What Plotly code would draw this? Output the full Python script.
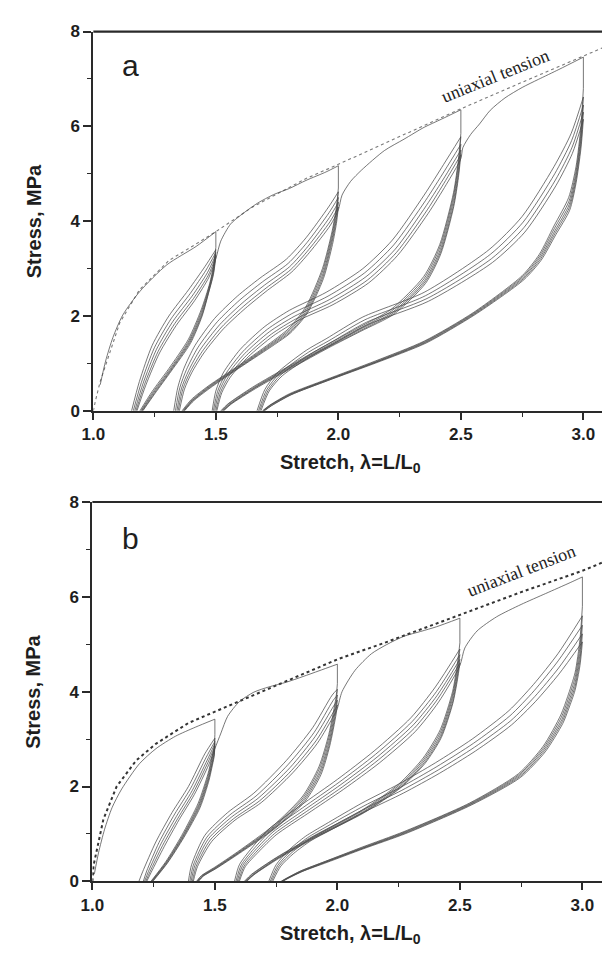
import plotly.graph_objects as go

# ======================= DATA =======================
# ---------- panel a ----------
A_TENSION_X = [1.0, 1.008, 1.028, 1.068, 1.108, 1.188, 1.308, 1.416, 1.5, 1.65, 1.788, 1.868, 2.0, 2.268, 2.5, 2.75, 3.0, 3.08]
A_TENSION_Y = [0, 0.2, 0.62, 1.24, 1.86, 2.55, 3.17, 3.51, 3.78, 4.3, 4.69, 4.9, 5.2, 5.83, 6.37, 6.93, 7.48, 7.66]

A1_LOAD_X = [1.028, 1.05, 1.08, 1.12, 1.19, 1.3, 1.42, 1.5]
A1_LOAD_Y = [0.55, 1.05, 1.55, 2.02, 2.52, 3.08, 3.47, 3.78]
A1_DROP = [3.78, 3.45]
A1_UNLOAD_X = [[1.5, 1.49, 1.475, 1.44, 1.388, 1.308, 1.24, 1.19],
               [1.5, 1.49, 1.474, 1.441, 1.39, 1.311, 1.244, 1.194],
               [1.5, 1.49, 1.473, 1.442, 1.392, 1.314, 1.247, 1.197],
               [1.5, 1.49, 1.473, 1.443, 1.394, 1.316, 1.25, 1.2],
               [1.5, 1.49, 1.472, 1.444, 1.396, 1.318, 1.252, 1.202]]
A1_UNLOAD_Y = [[3.45, 3.05, 2.69, 2.13, 1.51, 0.89, 0.41, 0],
               [3.4, 3.0, 2.64, 2.09, 1.48, 0.87, 0.4, 0],
               [3.34, 2.95, 2.59, 2.05, 1.46, 0.86, 0.39, 0],
               [3.29, 2.91, 2.55, 2.02, 1.44, 0.85, 0.38, 0],
               [3.25, 2.87, 2.52, 2.0, 1.42, 0.84, 0.37, 0]]
A1_RELOAD_X = [[1.156, 1.188, 1.24, 1.308, 1.388, 1.455, 1.5],
               [1.163, 1.196, 1.249, 1.317, 1.396, 1.46, 1.5],
               [1.169, 1.203, 1.257, 1.325, 1.403, 1.465, 1.5],
               [1.174, 1.209, 1.264, 1.332, 1.409, 1.469, 1.5]]
A1_RELOAD_Y = [[0, 0.62, 1.38, 2.0, 2.55, 3.04, 3.4],
               [0, 0.6, 1.33, 1.94, 2.48, 2.97, 3.34],
               [0, 0.58, 1.29, 1.89, 2.42, 2.91, 3.29],
               [0, 0.56, 1.25, 1.84, 2.37, 2.86, 3.25]]

A2_LOAD_X = [1.178, 1.214, 1.27, 1.338, 1.414, 1.472, 1.5, 1.52, 1.56, 1.6, 1.67, 1.735, 1.8, 1.868, 1.95, 2.0]
A2_LOAD_Y = [0, 0.54, 1.22, 1.8, 2.33, 2.82, 3.21, 3.58, 3.94, 4.12, 4.38, 4.56, 4.69, 4.86, 5.04, 5.17]
A2_DROP = [5.17, 4.7]
A2_UNLOAD_X = [[2.0, 1.992, 1.975, 1.935, 1.868, 1.8, 1.735, 1.6, 1.468, 1.4, 1.362],
               [2.0, 1.992, 1.975, 1.936, 1.869, 1.801, 1.737, 1.602, 1.47, 1.403, 1.365],
               [2.0, 1.992, 1.975, 1.937, 1.87, 1.802, 1.738, 1.604, 1.472, 1.405, 1.368],
               [2.0, 1.992, 1.975, 1.938, 1.871, 1.803, 1.739, 1.605, 1.474, 1.407, 1.37],
               [2.0, 1.992, 1.976, 1.939, 1.872, 1.804, 1.74, 1.606, 1.476, 1.409, 1.372]]
A2_UNLOAD_Y = [[4.7, 4.3, 3.8, 3.0, 2.2, 1.75, 1.48, 0.98, 0.52, 0.24, 0],
               [4.62, 4.22, 3.73, 2.95, 2.16, 1.72, 1.46, 0.97, 0.51, 0.23, 0],
               [4.5, 4.12, 3.65, 2.89, 2.12, 1.69, 1.44, 0.96, 0.5, 0.22, 0],
               [4.4, 4.04, 3.58, 2.84, 2.08, 1.66, 1.42, 0.95, 0.49, 0.22, 0],
               [4.3, 3.95, 3.51, 2.79, 2.05, 1.64, 1.4, 0.94, 0.48, 0.21, 0]]
A2_RELOAD_X = [[1.328, 1.345, 1.37, 1.415, 1.495, 1.588, 1.68, 1.788, 1.868, 1.96, 2.0],
               [1.335, 1.353, 1.38, 1.426, 1.506, 1.598, 1.69, 1.795, 1.872, 1.962, 2.0],
               [1.341, 1.36, 1.389, 1.436, 1.516, 1.607, 1.698, 1.801, 1.876, 1.964, 2.0],
               [1.346, 1.366, 1.396, 1.444, 1.524, 1.614, 1.705, 1.806, 1.879, 1.966, 2.0]]
A2_RELOAD_Y = [[0, 0.5, 0.9, 1.38, 1.95, 2.42, 2.8, 3.2, 3.65, 4.3, 4.62],
               [0, 0.49, 0.87, 1.33, 1.88, 2.34, 2.72, 3.11, 3.55, 4.18, 4.5],
               [0, 0.48, 0.85, 1.29, 1.82, 2.27, 2.65, 3.04, 3.47, 4.08, 4.4],
               [0, 0.47, 0.83, 1.25, 1.77, 2.21, 2.59, 2.98, 3.4, 3.99, 4.3]]

A3_LOAD_X = [1.351, 1.372, 1.402, 1.451, 1.531, 1.62, 1.71, 1.81, 1.882, 1.968, 2.0, 2.015, 2.05, 2.095, 2.188, 2.268, 2.35, 2.42, 2.5]
A3_LOAD_Y = [0, 0.46, 0.81, 1.22, 1.73, 2.16, 2.54, 2.93, 3.34, 3.92, 4.24, 4.55, 4.84, 5.08, 5.49, 5.73, 5.98, 6.15, 6.35]
A3_DROP = [6.35, 5.85]
A3_UNLOAD_X = [[2.5, 2.49, 2.47, 2.414, 2.348, 2.215, 2.08, 1.948, 1.8, 1.65, 1.55, 1.52],
               [2.5, 2.49, 2.47, 2.415, 2.35, 2.218, 2.083, 1.951, 1.803, 1.653, 1.553, 1.523],
               [2.5, 2.49, 2.47, 2.416, 2.352, 2.221, 2.086, 1.954, 1.806, 1.656, 1.556, 1.526],
               [2.5, 2.49, 2.471, 2.417, 2.354, 2.224, 2.089, 1.957, 1.809, 1.659, 1.559, 1.529],
               [2.5, 2.49, 2.471, 2.418, 2.356, 2.227, 2.092, 1.96, 1.812, 1.662, 1.562, 1.532]]
A3_UNLOAD_Y = [[5.85, 5.3, 4.6, 3.51, 2.83, 2.14, 1.75, 1.38, 0.95, 0.5, 0.15, 0],
               [5.78, 5.22, 4.53, 3.46, 2.79, 2.11, 1.73, 1.36, 0.94, 0.49, 0.15, 0],
               [5.62, 5.1, 4.44, 3.4, 2.75, 2.08, 1.71, 1.35, 0.93, 0.48, 0.14, 0],
               [5.5, 5.0, 4.37, 3.35, 2.72, 2.06, 1.69, 1.34, 0.92, 0.48, 0.14, 0],
               [5.4, 4.92, 4.31, 3.31, 2.69, 2.04, 1.68, 1.33, 0.91, 0.47, 0.14, 0]]
A3_RELOAD_X = [[1.485, 1.5, 1.53, 1.6, 1.7, 1.8, 1.95, 2.1, 2.22, 2.35, 2.43, 2.5],
               [1.49, 1.507, 1.539, 1.61, 1.71, 1.81, 1.958, 2.107, 2.226, 2.355, 2.433, 2.5],
               [1.495, 1.513, 1.546, 1.618, 1.719, 1.819, 1.965, 2.113, 2.232, 2.359, 2.436, 2.5],
               [1.5, 1.519, 1.553, 1.625, 1.727, 1.827, 1.972, 2.119, 2.237, 2.363, 2.438, 2.5]]
A3_RELOAD_Y = [[0, 0.42, 0.8, 1.3, 1.78, 2.12, 2.5, 3.0, 3.6, 4.55, 5.2, 5.78],
               [0, 0.41, 0.77, 1.25, 1.72, 2.05, 2.42, 2.91, 3.5, 4.43, 5.06, 5.62],
               [0, 0.4, 0.75, 1.21, 1.67, 1.99, 2.35, 2.83, 3.41, 4.33, 4.95, 5.5],
               [0, 0.39, 0.73, 1.17, 1.62, 1.94, 2.29, 2.76, 3.34, 4.24, 4.86, 5.4]]

A4_LOAD_X = [1.504, 1.524, 1.559, 1.632, 1.734, 1.834, 1.978, 2.124, 2.242, 2.366, 2.44, 2.5, 2.508, 2.54, 2.576, 2.62, 2.68, 2.75, 2.816, 2.9, 3.0]
A4_LOAD_Y = [0, 0.38, 0.71, 1.14, 1.58, 1.9, 2.24, 2.7, 3.28, 4.16, 4.77, 5.32, 5.55, 5.83, 6.05, 6.34, 6.6, 6.82, 6.99, 7.2, 7.46]
A4_DROP = [7.46, 6.8]
A4_UNLOAD_X = [[3.0, 2.99, 2.97, 2.94, 2.88, 2.82, 2.75, 2.55, 2.35, 2.15, 1.95, 1.8, 1.72, 1.69],
               [3.0, 2.99, 2.97, 2.941, 2.882, 2.822, 2.752, 2.552, 2.352, 2.152, 1.952, 1.802, 1.722, 1.692],
               [3.0, 2.99, 2.97, 2.942, 2.884, 2.824, 2.754, 2.554, 2.354, 2.154, 1.954, 1.804, 1.724, 1.694],
               [3.0, 2.99, 2.97, 2.943, 2.886, 2.826, 2.756, 2.556, 2.356, 2.156, 1.956, 1.806, 1.726, 1.696],
               [3.0, 2.99, 2.97, 2.944, 2.888, 2.828, 2.758, 2.558, 2.358, 2.158, 1.958, 1.808, 1.728, 1.698]]
A4_UNLOAD_Y = [[6.8, 6.0, 5.15, 4.5, 3.9, 3.3, 2.85, 2.07, 1.47, 1.05, 0.66, 0.36, 0.12, 0],
               [6.62, 5.87, 5.05, 4.42, 3.85, 3.27, 2.83, 2.06, 1.46, 1.04, 0.65, 0.35, 0.12, 0],
               [6.45, 5.75, 4.96, 4.35, 3.8, 3.24, 2.81, 2.05, 1.45, 1.03, 0.65, 0.35, 0.12, 0],
               [6.3, 5.64, 4.88, 4.29, 3.76, 3.21, 2.79, 2.04, 1.44, 1.03, 0.64, 0.34, 0.11, 0],
               [6.15, 5.53, 4.8, 4.23, 3.72, 3.18, 2.77, 2.03, 1.43, 1.02, 0.64, 0.34, 0.11, 0]]
A4_RELOAD_X = [[1.668, 1.7, 1.75, 1.87, 1.95, 2.1, 2.35, 2.615, 2.75, 2.88, 2.95, 3.0],
               [1.674, 1.707, 1.758, 1.879, 1.958, 2.108, 2.356, 2.62, 2.754, 2.883, 2.952, 3.0],
               [1.679, 1.713, 1.765, 1.887, 1.965, 2.115, 2.362, 2.625, 2.758, 2.886, 2.954, 3.0],
               [1.684, 1.718, 1.771, 1.894, 1.972, 2.121, 2.367, 2.629, 2.761, 2.888, 2.955, 3.0]]
A4_RELOAD_Y = [[0, 0.45, 0.8, 1.28, 1.52, 1.98, 2.5, 3.4, 4.1, 5.15, 5.85, 6.62],
               [0, 0.44, 0.78, 1.24, 1.47, 1.92, 2.43, 3.3, 3.98, 5.0, 5.7, 6.45],
               [0, 0.43, 0.76, 1.2, 1.43, 1.87, 2.37, 3.21, 3.87, 4.87, 5.56, 6.3],
               [0, 0.42, 0.74, 1.17, 1.39, 1.82, 2.31, 3.13, 3.77, 4.75, 5.43, 6.15]]

# ---------- panel b ----------
B_TENSION_X = [1.0, 1.005, 1.045, 1.099, 1.179, 1.259, 1.392, 1.499, 1.659, 1.845, 2.004, 2.192, 2.5, 2.75, 3.0, 3.08]
B_TENSION_Y = [0, 0.34, 1.31, 2.0, 2.55, 2.9, 3.34, 3.58, 3.93, 4.34, 4.69, 5.03, 5.62, 6.1, 6.55, 6.72]

B1_LOAD_X = [1.008, 1.025, 1.05, 1.08, 1.12, 1.192, 1.26, 1.339, 1.42, 1.5]
B1_LOAD_Y = [0.15, 0.6, 1.1, 1.55, 1.95, 2.48, 2.8, 3.06, 3.25, 3.42]
B1_DROP = [3.42, 3.1]
B1_UNLOAD_X = [[1.5, 1.497, 1.485, 1.472, 1.432, 1.365, 1.299, 1.239],
               [1.5, 1.497, 1.485, 1.473, 1.434, 1.367, 1.301, 1.241],
               [1.5, 1.497, 1.486, 1.474, 1.436, 1.369, 1.303, 1.243],
               [1.5, 1.497, 1.486, 1.475, 1.438, 1.371, 1.305, 1.245],
               [1.5, 1.497, 1.487, 1.476, 1.44, 1.373, 1.307, 1.247]]
B1_UNLOAD_Y = [[3.1, 2.83, 2.55, 2.27, 1.65, 0.97, 0.41, 0],
               [3.02, 2.77, 2.5, 2.23, 1.62, 0.95, 0.4, 0],
               [2.95, 2.71, 2.45, 2.19, 1.6, 0.94, 0.4, 0],
               [2.9, 2.67, 2.41, 2.16, 1.58, 0.93, 0.39, 0],
               [2.85, 2.63, 2.38, 2.13, 1.56, 0.92, 0.39, 0]]
B1_RELOAD_X = [[1.19, 1.205, 1.259, 1.325, 1.392, 1.459, 1.5],
               [1.208, 1.222, 1.272, 1.336, 1.401, 1.465, 1.5],
               [1.213, 1.229, 1.28, 1.343, 1.407, 1.469, 1.5],
               [1.218, 1.235, 1.287, 1.349, 1.412, 1.472, 1.5]]
B1_RELOAD_Y = [[0, 0.2, 0.83, 1.45, 2.0, 2.69, 3.02],
               [0, 0.22, 0.82, 1.42, 1.96, 2.62, 2.95],
               [0, 0.21, 0.79, 1.37, 1.91, 2.56, 2.9],
               [0, 0.2, 0.76, 1.33, 1.87, 2.51, 2.85]]

B2_LOAD_X = [1.222, 1.24, 1.293, 1.354, 1.416, 1.475, 1.5, 1.525, 1.552, 1.6, 1.659, 1.72, 1.792, 1.86, 1.925, 2.0]
B2_LOAD_Y = [0, 0.19, 0.73, 1.3, 1.83, 2.46, 2.8, 3.13, 3.48, 3.79, 3.99, 4.1, 4.2, 4.32, 4.44, 4.58]
B2_DROP = [4.58, 4.17]
B2_UNLOAD_X = [[2.0, 1.995, 1.965, 1.925, 1.859, 1.739, 1.592, 1.5, 1.445, 1.425],
               [2.0, 1.995, 1.966, 1.927, 1.861, 1.741, 1.594, 1.502, 1.447, 1.427],
               [2.0, 1.995, 1.967, 1.929, 1.863, 1.743, 1.596, 1.504, 1.449, 1.429],
               [2.0, 1.995, 1.968, 1.931, 1.865, 1.745, 1.598, 1.506, 1.451, 1.431],
               [2.0, 1.995, 1.969, 1.933, 1.867, 1.747, 1.6, 1.508, 1.453, 1.433]]
B2_UNLOAD_Y = [[4.17, 3.9, 3.1, 2.42, 1.8, 1.18, 0.62, 0.3, 0.12, 0],
               [4.05, 3.8, 3.04, 2.38, 1.77, 1.16, 0.61, 0.29, 0.12, 0],
               [3.93, 3.7, 2.97, 2.33, 1.74, 1.15, 0.6, 0.29, 0.11, 0],
               [3.82, 3.61, 2.91, 2.29, 1.71, 1.13, 0.6, 0.28, 0.11, 0],
               [3.72, 3.53, 2.86, 2.25, 1.68, 1.12, 0.59, 0.28, 0.11, 0]]
B2_RELOAD_X = [[1.392, 1.405, 1.459, 1.552, 1.659, 1.792, 1.899, 1.979, 2.0],
               [1.398, 1.412, 1.467, 1.561, 1.668, 1.8, 1.905, 1.982, 2.0],
               [1.403, 1.418, 1.474, 1.569, 1.676, 1.807, 1.91, 1.985, 2.0],
               [1.408, 1.424, 1.481, 1.576, 1.683, 1.813, 1.915, 1.987, 2.0]]
B2_RELOAD_Y = [[0, 0.35, 0.97, 1.45, 1.86, 2.55, 3.24, 3.93, 4.05],
               [0, 0.34, 0.93, 1.4, 1.8, 2.47, 3.14, 3.81, 3.93],
               [0, 0.33, 0.9, 1.36, 1.75, 2.4, 3.06, 3.7, 3.82],
               [0, 0.32, 0.87, 1.32, 1.7, 2.34, 2.98, 3.6, 3.72]]

B3_LOAD_X = [1.412, 1.429, 1.487, 1.582, 1.689, 1.818, 1.918, 1.988, 2.0, 2.019, 2.072, 2.139, 2.2, 2.272, 2.34, 2.405, 2.5]
B3_LOAD_Y = [0, 0.31, 0.84, 1.29, 1.66, 2.29, 2.91, 3.52, 3.65, 4.0, 4.45, 4.8, 4.99, 5.17, 5.27, 5.37, 5.55]
B3_DROP = [5.55, 5.03]
B3_UNLOAD_X = [[2.5, 2.49, 2.47, 2.42, 2.35, 2.25, 2.1, 1.9, 1.75, 1.65, 1.62],
               [2.5, 2.49, 2.47, 2.421, 2.352, 2.253, 2.103, 1.903, 1.753, 1.653, 1.623],
               [2.5, 2.49, 2.47, 2.422, 2.354, 2.256, 2.106, 1.906, 1.756, 1.656, 1.626],
               [2.5, 2.49, 2.471, 2.423, 2.356, 2.258, 2.108, 1.908, 1.758, 1.658, 1.628],
               [2.5, 2.49, 2.471, 2.424, 2.358, 2.26, 2.11, 1.91, 1.76, 1.66, 1.63]]
B3_UNLOAD_Y = [[5.03, 4.6, 4.0, 3.2, 2.6, 2.05, 1.5, 0.95, 0.5, 0.15, 0],
               [4.9, 4.5, 3.93, 3.15, 2.57, 2.03, 1.49, 0.94, 0.5, 0.15, 0],
               [4.78, 4.4, 3.86, 3.1, 2.54, 2.01, 1.47, 0.93, 0.49, 0.14, 0],
               [4.68, 4.32, 3.8, 3.06, 2.51, 1.99, 1.46, 0.93, 0.49, 0.14, 0],
               [4.6, 4.25, 3.75, 3.03, 2.49, 1.98, 1.45, 0.92, 0.48, 0.14, 0]]
B3_RELOAD_X = [[1.58, 1.6, 1.65, 1.72, 1.85, 2.0, 2.15, 2.3, 2.4, 2.5],
               [1.586, 1.607, 1.658, 1.729, 1.858, 2.007, 2.156, 2.305, 2.404, 2.5],
               [1.591, 1.613, 1.665, 1.737, 1.866, 2.014, 2.162, 2.31, 2.407, 2.5],
               [1.596, 1.619, 1.672, 1.744, 1.873, 2.02, 2.167, 2.314, 2.41, 2.5]]
B3_RELOAD_Y = [[0, 0.35, 0.7, 1.1, 1.6, 2.15, 2.75, 3.45, 4.1, 4.9],
               [0, 0.34, 0.68, 1.07, 1.55, 2.09, 2.68, 3.37, 4.0, 4.78],
               [0, 0.33, 0.66, 1.04, 1.51, 2.04, 2.62, 3.3, 3.92, 4.68],
               [0, 0.32, 0.64, 1.01, 1.47, 1.99, 2.56, 3.23, 3.85, 4.6]]

B4_LOAD_X = [1.6, 1.624, 1.678, 1.75, 1.879, 2.025, 2.172, 2.318, 2.413, 2.5, 2.52, 2.57, 2.65, 2.75, 2.85, 2.95, 3.0]
B4_LOAD_Y = [0, 0.31, 0.62, 0.98, 1.43, 1.94, 2.5, 3.16, 3.78, 4.55, 4.92, 5.28, 5.58, 5.84, 6.07, 6.3, 6.42]
B4_DROP = [6.42, 5.8]
B4_UNLOAD_X = [[3.0, 2.99, 2.97, 2.94, 2.912, 2.84, 2.739, 2.539, 2.272, 2.1, 1.95, 1.85, 1.79, 1.77],
               [3.0, 2.99, 2.97, 2.941, 2.914, 2.842, 2.741, 2.541, 2.274, 2.102, 1.952, 1.852, 1.792, 1.772],
               [3.0, 2.99, 2.97, 2.942, 2.916, 2.844, 2.743, 2.543, 2.276, 2.104, 1.954, 1.854, 1.794, 1.774],
               [3.0, 2.99, 2.97, 2.943, 2.918, 2.846, 2.745, 2.545, 2.278, 2.106, 1.956, 1.856, 1.796, 1.776],
               [3.0, 2.99, 2.97, 2.944, 2.92, 2.848, 2.747, 2.547, 2.28, 2.108, 1.958, 1.858, 1.798, 1.778]]
B4_UNLOAD_Y = [[5.8, 5.1, 4.4, 3.9, 3.51, 2.85, 2.27, 1.65, 1.05, 0.72, 0.42, 0.22, 0.06, 0],
               [5.6, 4.95, 4.3, 3.83, 3.46, 2.82, 2.25, 1.64, 1.04, 0.71, 0.42, 0.22, 0.06, 0],
               [5.4, 4.8, 4.2, 3.76, 3.41, 2.79, 2.23, 1.63, 1.03, 0.7, 0.41, 0.21, 0.06, 0],
               [5.22, 4.67, 4.11, 3.7, 3.37, 2.76, 2.21, 1.62, 1.02, 0.7, 0.41, 0.21, 0.06, 0],
               [5.05, 4.55, 4.03, 3.64, 3.33, 2.73, 2.19, 1.61, 1.01, 0.69, 0.4, 0.21, 0.06, 0]]
B4_RELOAD_X = [[1.72, 1.75, 1.8, 1.87, 1.95, 2.1, 2.25, 2.4, 2.55, 2.7, 2.8, 2.9, 3.0],
               [1.726, 1.757, 1.808, 1.878, 1.958, 2.108, 2.257, 2.406, 2.555, 2.704, 2.803, 2.901, 3.0],
               [1.731, 1.763, 1.815, 1.886, 1.965, 2.115, 2.263, 2.412, 2.56, 2.708, 2.806, 2.903, 3.0],
               [1.736, 1.769, 1.822, 1.893, 1.972, 2.121, 2.269, 2.417, 2.564, 2.711, 2.808, 2.904, 3.0]]
B4_RELOAD_Y = [[0, 0.35, 0.65, 0.95, 1.2, 1.65, 2.05, 2.5, 3.0, 3.6, 4.15, 4.8, 5.6],
               [0, 0.34, 0.63, 0.92, 1.16, 1.59, 1.98, 2.42, 2.91, 3.49, 4.02, 4.65, 5.4],
               [0, 0.33, 0.61, 0.89, 1.12, 1.54, 1.92, 2.35, 2.83, 3.39, 3.9, 4.5, 5.22],
               [0, 0.32, 0.59, 0.86, 1.08, 1.49, 1.86, 2.28, 2.75, 3.3, 3.79, 4.37, 5.05]]

MAX_STRETCH = [1.5, 2.0, 2.5, 3.0]

X_TICKS = [1.0, 1.5, 2.0, 2.5, 3.0]
X_TICK_TEXT = ["1.0", "1.5", "2.0", "2.5", "3.0"]
Y_TICKS = [0, 2, 4, 6, 8]
Y_TICK_TEXT = ["0", "2", "4", "6", "8"]

# ======================= FIGURE =======================
W, H = 602, 958
fig = go.Figure()

LINE_COLOR = "#4a4a4a"
CURVE = dict(color=LINE_COLOR, width=0.75, shape="spline", smoothing=0.7)

panels = {
    "a": dict(xa="x", ya="y",
              tension=(A_TENSION_X, A_TENSION_Y),
              dot=dict(color="#7a7a7a", width=1.1, dash="dot"),
              loads=[(A1_LOAD_X, A1_LOAD_Y), (A2_LOAD_X, A2_LOAD_Y), (A3_LOAD_X, A3_LOAD_Y), (A4_LOAD_X, A4_LOAD_Y)],
              drops=[A1_DROP, A2_DROP, A3_DROP, A4_DROP],
              unloads=[(A1_UNLOAD_X, A1_UNLOAD_Y), (A2_UNLOAD_X, A2_UNLOAD_Y), (A3_UNLOAD_X, A3_UNLOAD_Y), (A4_UNLOAD_X, A4_UNLOAD_Y)],
              reloads=[(A1_RELOAD_X, A1_RELOAD_Y), (A2_RELOAD_X, A2_RELOAD_Y), (A3_RELOAD_X, A3_RELOAD_Y), (A4_RELOAD_X, A4_RELOAD_Y)]),
    "b": dict(xa="x2", ya="y2",
              tension=(B_TENSION_X, B_TENSION_Y),
              dot=dict(color="#333333", width=2.0, dash="dot"),
              loads=[(B1_LOAD_X, B1_LOAD_Y), (B2_LOAD_X, B2_LOAD_Y), (B3_LOAD_X, B3_LOAD_Y), (B4_LOAD_X, B4_LOAD_Y)],
              drops=[B1_DROP, B2_DROP, B3_DROP, B4_DROP],
              unloads=[(B1_UNLOAD_X, B1_UNLOAD_Y), (B2_UNLOAD_X, B2_UNLOAD_Y), (B3_UNLOAD_X, B3_UNLOAD_Y), (B4_UNLOAD_X, B4_UNLOAD_Y)],
              reloads=[(B1_RELOAD_X, B1_RELOAD_Y), (B2_RELOAD_X, B2_RELOAD_Y), (B3_RELOAD_X, B3_RELOAD_Y), (B4_RELOAD_X, B4_RELOAD_Y)]),
}


def add(x, y, p, line):
    fig.add_trace(go.Scatter(x=x, y=y, mode="lines", line=line, xaxis=p["xa"], yaxis=p["ya"],
                             showlegend=False, hoverinfo="skip"))


for key, p in panels.items():
    add(p["tension"][0], p["tension"][1], p, p["dot"])
    for g in range(4):
        lx, ly = p["loads"][g]
        add(lx, ly, p, CURVE)
        m = MAX_STRETCH[g]
        add([m, m], p["drops"][g], p, dict(color=LINE_COLOR, width=0.75))
        ux, uy = p["unloads"][g]
        for cx, cy in zip(ux, uy):
            add(cx, cy, p, CURVE)
        rx, ry = p["reloads"][g]
        for cx, cy in zip(rx, ry):
            add(cx, cy, p, CURVE)

TICKFONT = dict(family="Liberation Sans, Arial, sans-serif", size=17, color="#1e1e1e")
AXCOL = "#2a2a2a"


def xaxis(domain, rng, anchor):
    return dict(domain=domain, range=rng, anchor=anchor, tickmode="array", tickvals=X_TICKS,
                ticktext=["<b>%s</b>" % t for t in X_TICK_TEXT], ticks="outside", ticklen=7, tickwidth=1.6,
                tickcolor=AXCOL, showline=True, linecolor=AXCOL, linewidth=2.2, showgrid=False, zeroline=False,
                tickfont=TICKFONT, minor=dict(tick0=1.0, dtick=0.25, ticks="outside", ticklen=4, tickwidth=1.4,
                                              tickcolor=AXCOL, showgrid=False))


def yaxis(domain, anchor):
    return dict(domain=domain, range=[0, 8], anchor=anchor, tickmode="array", tickvals=Y_TICKS,
                ticktext=["<b>%s</b>" % t for t in Y_TICK_TEXT], ticks="outside", ticklen=8, tickwidth=1.6,
                tickcolor=AXCOL, showline=True, linecolor=AXCOL, linewidth=2.2, showgrid=False, zeroline=False,
                tickfont=TICKFONT, minor=dict(tick0=0, dtick=1, ticks="outside", ticklen=4, tickwidth=1.4,
                                              tickcolor=AXCOL, showgrid=False))


xa_dom = [83 / W, 1.0]
xb_dom = [82 / W, 1.0]
ya_dom = [1 - 410 / H, 1 - 23 / H]
yb_dom = [1 - 890 / H, 1 - 503 / H]

fig.update_layout(
    width=W, height=H, margin=dict(l=0, r=0, t=0, b=0),
    paper_bgcolor="white", plot_bgcolor="white",
    xaxis=xaxis(xa_dom, [1.0, 1.0 + (W - 83) / 250.0], "y"),
    yaxis=yaxis(ya_dom, "x"),
    xaxis2=xaxis(xb_dom, [1.0, 1.0 + (W - 82) / 250.0], "y2"),
    yaxis2=yaxis(yb_dom, "x2"),
)

# top frame lines
for xr, yr in (("x domain", "y domain"), ("x2 domain", "y2 domain")):
    fig.add_shape(type="line", xref=xr, yref=yr, x0=0, x1=1, y0=1, y1=1,
                  line=dict(color=AXCOL, width=2.2))

ann = []
TITLE_FONT = dict(family="Liberation Sans, Arial, sans-serif", size=20, color="#1e1e1e")
for yc_y, yc_x, lab, lab_y, ut in ((217, 464, "a", 58, (493, 68, -22)), (697, 944, "b", 540, (519, 573, -21))):
    ann.append(dict(text="<b>Stress, MPa</b>", x=22 / W, y=1 - yc_y / H, xref="paper", yref="paper",
                    textangle=-90, showarrow=False, font=TITLE_FONT, xanchor="center", yanchor="middle"))
    ann.append(dict(text="<b>Stretch, λ=L/L<sub>0</sub></b>", x=345 / W, y=1 - yc_x / H, xref="paper", yref="paper",
                    showarrow=False, font=TITLE_FONT, xanchor="center", yanchor="middle"))
    ann.append(dict(text=lab, x=110 / W, y=1 - lab_y / H, xref="paper", yref="paper", showarrow=False,
                    font=dict(family="Liberation Sans, Arial, sans-serif", size=30, color="#1e1e1e"),
                    xanchor="left", yanchor="middle"))
    ann.append(dict(text="uniaxial tension", x=ut[0] / W, y=1 - ut[1] / H, xref="paper", yref="paper",
                    showarrow=False, textangle=ut[2],
                    font=dict(family="Liberation Serif, Times New Roman, serif", size=18, color="#222222"),
                    xanchor="center", yanchor="middle"))
fig.update_layout(annotations=ann)

fig.write_html("out.html")
